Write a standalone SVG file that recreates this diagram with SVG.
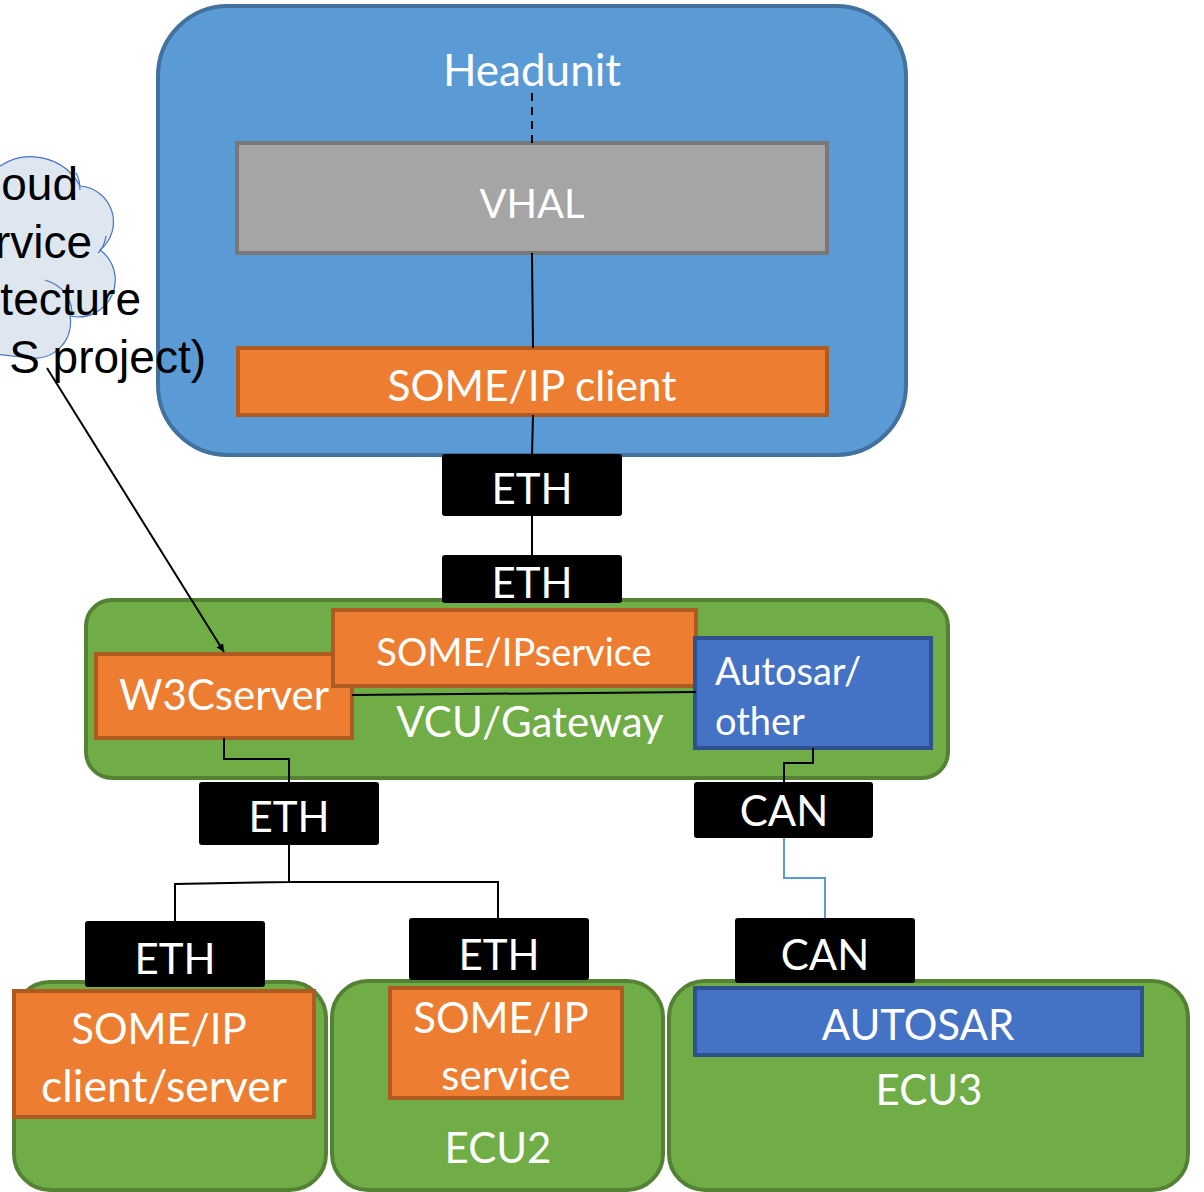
<svg xmlns="http://www.w3.org/2000/svg" width="1204" height="1192" viewBox="0 0 1204 1192">
<style>
.t{font-family:Lato,"Open Sans","Liberation Sans",sans-serif;fill:#fff;text-anchor:middle}
.ecu{fill:#70AD47;stroke:#548235;stroke-width:4}
.org{fill:#ED7D31;stroke:#AE5A21;stroke-width:4}
.blu{fill:#4472C4;stroke:#2F528F;stroke-width:4}
.bus{fill:#000}
.ln{fill:none;stroke:#000;stroke-width:2}
.ct{font-family:"Liberation Sans",Arial,sans-serif;font-size:46px;fill:#000;text-anchor:end}
</style>
<defs>
<marker id="ah" viewBox="0 0 10 10" refX="10" refY="5" markerWidth="8" markerHeight="8" markerUnits="userSpaceOnUse" orient="auto">
<path d="M0,0 L10,5 L0,10 Z" fill="#000"/>
</marker>
</defs>

<g id="headunit">
<rect x="158" y="6" width="748" height="449" rx="70" fill="#5B9BD5" stroke="#41719C" stroke-width="4"/>
<text class="t" x="532" y="86" font-size="44">Headunit</text>
</g>
<g id="vhal">
<rect x="237" y="143" width="590" height="110" fill="#A5A5A5" stroke="#787878" stroke-width="4"/>
<text class="t" x="532" y="218" font-size="40">VHAL</text>
</g>
<g id="someip-client">
<rect class="org" x="238" y="348" width="589" height="67"/>
<text class="t" x="532" y="401" font-size="42.5">SOME/IP client</text>
</g>

<g id="cloud">
<path d="M-5,168 L0,166 A56,56 0 0 1 80,186 A36,36 0 0 1 100,250 A37,37 0 0 1 70,316 A36,36 0 0 1 30,358 L-5,354 Z" fill="#DEE6EF" stroke="#4472C4" stroke-width="1.2"/>
<path d="M76,173 Q80,180 80,190 M106,236 Q104,248 98,253 M45,280 Q70,288 72,312" fill="none" stroke="#4472C4" stroke-width="1.2"/>
<text class="ct" x="78" y="200">oud</text>
<text class="ct" x="92" y="258">rvice</text>
<text class="ct" x="141" y="315">tecture</text>
<text class="ct" x="206" y="373">S project)</text>
</g>

<g id="vcu">
<rect class="ecu" x="86" y="600" width="862" height="178" rx="26"/>
<text class="t" x="530" y="737" font-size="42">VCU/Gateway</text>
</g>
<g id="w3cserver">
<rect class="org" x="96" y="654" width="256" height="84"/>
<text class="t" x="224" y="710" font-size="42">W3Cserver</text>
</g>
<g id="someip-service">
<rect class="org" x="333" y="610" width="363" height="76"/>
<text class="t" x="514" y="666" font-size="38">SOME/IPservice</text>
</g>
<g id="autosar-other">
<rect class="blu" x="695" y="638" width="236" height="110"/>
<text class="t" x="715" y="685" font-size="38" style="text-anchor:start">Autosar/</text>
<text class="t" x="715" y="735" font-size="38" style="text-anchor:start">other</text>
</g>

<g id="ecu1">
<rect class="ecu" x="14" y="982" width="312" height="208" rx="36"/>
</g>
<g id="someip-cs">
<rect class="org" x="14" y="991" width="300" height="126"/>
<text class="t" x="159" y="1044" font-size="42">SOME/IP</text>
<text class="t" x="164" y="1102" font-size="44.5">client/server</text>
</g>
<g id="ecu2">
<rect class="ecu" x="332" y="981" width="331" height="209" rx="36"/>
<text class="t" x="498" y="1163" font-size="42">ECU2</text>
</g>
<g id="someip-svc2">
<rect class="org" x="390" y="988" width="232" height="110"/>
<text class="t" x="501" y="1033" font-size="42">SOME/IP</text>
<text class="t" x="506" y="1090" font-size="42">service</text>
</g>
<g id="ecu3">
<rect class="ecu" x="669" y="981" width="519" height="209" rx="36"/>
<text class="t" x="929" y="1105" font-size="42">ECU3</text>
</g>
<g id="autosar">
<rect class="blu" x="695" y="988" width="447" height="67"/>
<text class="t" x="918" y="1040" font-size="42">AUTOSAR</text>
</g>

<g id="connectors">
<line x1="532" y1="93" x2="532" y2="143" stroke="#000" stroke-width="2" stroke-dasharray="8,6"/>
<line class="ln" x1="532" y1="253" x2="533" y2="348"/>
<line class="ln" x1="533" y1="415" x2="532" y2="456"/>
<line class="ln" x1="532" y1="516" x2="532" y2="556"/>
<line class="ln" x1="47" y1="368" x2="224" y2="652" marker-end="url(#ah)"/>
<line class="ln" x1="352" y1="695" x2="696" y2="692"/>
<polyline class="ln" points="224,738 224,759 289,759 289,782"/>
<polyline class="ln" points="813,748 813,763 784,763 784,782"/>
<polyline class="ln" points="289,845 289,882 175,884 175,921"/>
<polyline class="ln" points="289,882 498,882 498,918"/>
<polyline fill="none" stroke="#5B9BD5" stroke-width="2" points="784,838 784,878 825,878 825,918"/>
</g>

<g id="eth1"><rect class="bus" x="442" y="454" width="180" height="62" rx="3"/><text class="t" x="532" y="504" font-size="42">ETH</text></g>
<g id="eth2"><rect class="bus" x="442" y="555" width="180" height="48" rx="3"/><text class="t" x="532" y="598" font-size="42">ETH</text></g>
<g id="eth3"><rect class="bus" x="199" y="782" width="180" height="63" rx="3"/><text class="t" x="289" y="832" font-size="42">ETH</text></g>
<g id="can1"><rect class="bus" x="694" y="782" width="179" height="56" rx="3"/><text class="t" x="784" y="826" font-size="42">CAN</text></g>
<g id="eth4"><rect class="bus" x="85" y="921" width="180" height="66" rx="3"/><text class="t" x="175" y="974" font-size="42">ETH</text></g>
<g id="eth5"><rect class="bus" x="409" y="918" width="180" height="62" rx="3"/><text class="t" x="499" y="970" font-size="42">ETH</text></g>
<g id="can2"><rect class="bus" x="735" y="918" width="180" height="65" rx="3"/><text class="t" x="825" y="970" font-size="42">CAN</text></g>
</svg>
